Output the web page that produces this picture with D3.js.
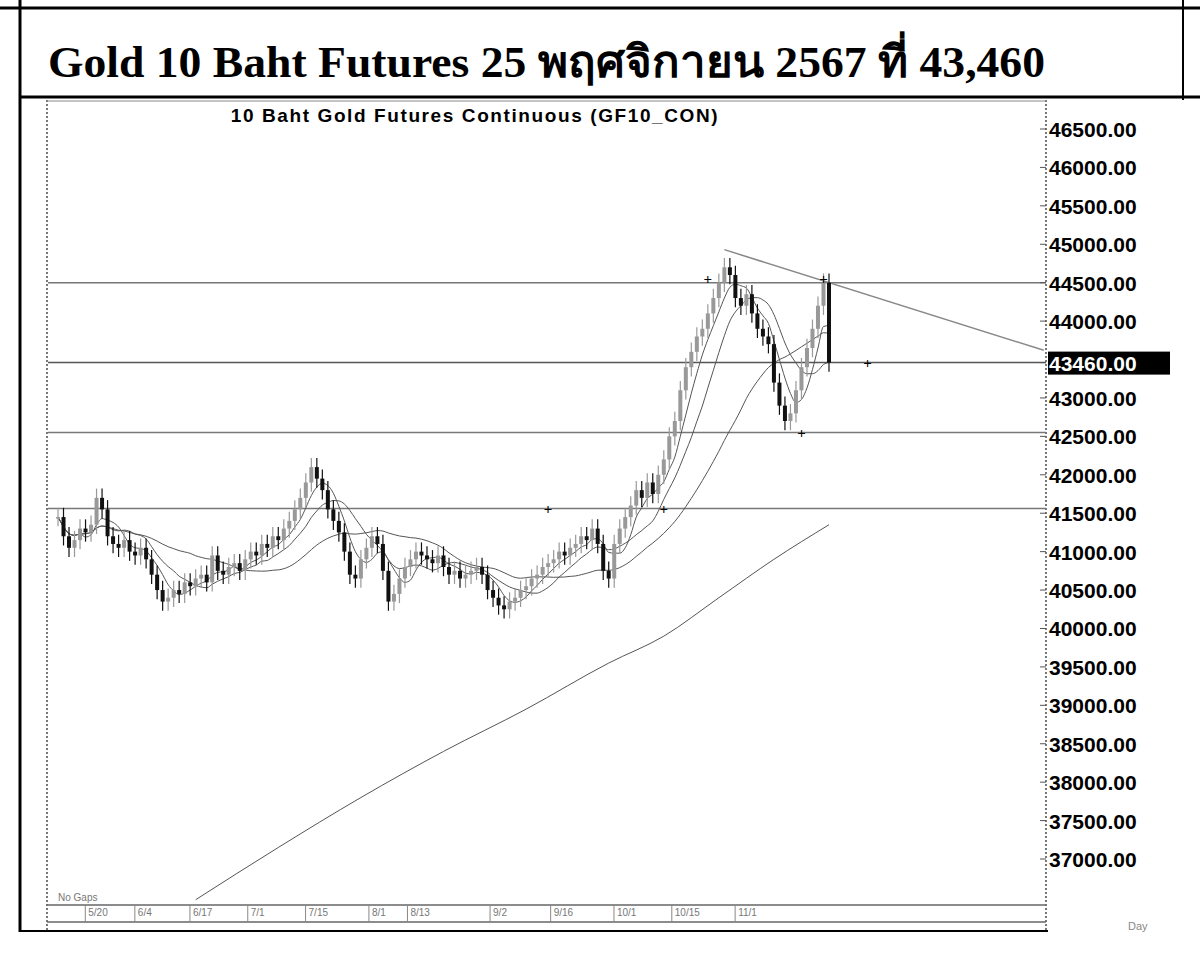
<!DOCTYPE html>
<html><head><meta charset="utf-8">
<script src="https://cdn.jsdelivr.net/npm/d3@7"></script>
<style>body{margin:0;background:#fff}</style></head>
<body><svg id="c" width="1200" height="978"></svg>
<script>
const closes=[41450,41200,41050,41150,41300,41250,41350,41700,41550,41200,
41100,41050,41150,41000,40950,41050,40900,40700,40500,40350,
40400,40500,40450,40600,40550,40650,40700,40600,40950,40750,
40700,40800,40850,40750,40900,41000,40950,41100,41050,41200,
41150,41300,41400,41550,41700,41900,42100,41950,41800,41550,
41400,41250,41000,40700,40650,40900,41050,41200,41100,40750,
40350,40450,40650,40800,40900,41000,40950,40900,40850,40950,
40800,40700,40750,40650,40700,40750,40800,40700,40500,40400,
40300,40250,40350,40400,40500,40550,40650,40700,40800,40850,
40900,41000,40950,41050,41100,41200,41150,41300,41100,40750,
40650,41100,41300,41450,41600,41800,41700,41900,41750,42000,
42200,42500,42700,43100,43400,43600,43800,43900,44100,44300,
44500,44700,44600,44300,44200,44350,44100,43900,43800,43700,
43200,42900,42700,42800,43100,43400,43650,43900,44200,44500,43460];
const longMA=[[25,36470],[40,37150],[55,37800],[70,38400],[85,38950],[100,39550],[110,39900],[120,40400],[130,40900],[140,41350]];
const levels=[44500,43460,42550,41560];
const trend=[[121,44930],[179,43620]];
const marks=[[118,44550],[139,44550],[147,43460],[135,42550],[89,41560],[110,41560]];
const yTicks=[46500,46000,45500,45000,44500,44000,43460,43000,42500,42000,41500,41000,40500,40000,39500,39000,38500,38000,37500,37000];
const dateTicks=[["5/20",5.5],["6/4",14.5],["6/17",24.5],["7/1",35],["7/15",45.5],["8/1",57],["8/13",64],["9/2",79],["9/16",90],["10/1",101.5],["10/15",112],["11/1",123.5]];
const maPeriods=[5,10,25];

const svg=d3.select("#c");
const x=d3.scaleLinear().domain([0,140]).range([58,829]);
const y=d3.scaleLinear().domain([37000,46500]).range([859,129]);
svg.append("line").attr("x1",0).attr("x2",1200).attr("y1",8).attr("y2",8).attr("stroke","#000").attr("stroke-width",3);
svg.append("line").attr("x1",20).attr("x2",1200).attr("y1",97).attr("y2",97).attr("stroke","#000").attr("stroke-width",3);
svg.append("line").attr("x1",20).attr("x2",20).attr("y1",0).attr("y2",932).attr("stroke","#000").attr("stroke-width",3);
svg.append("line").attr("x1",1183).attr("x2",1183).attr("y1",0).attr("y2",100).attr("stroke","#000").attr("stroke-width",2);
svg.append("line").attr("x1",20).attr("x2",1048).attr("y1",931).attr("y2",931).attr("stroke","#000").attr("stroke-width",2);
svg.append("text").attr("x",48).attr("y",77).attr("font-family","Liberation Serif, DejaVu Serif, serif").attr("font-weight","bold").attr("font-size",44)
 .attr("textLength",997).attr("lengthAdjust","spacingAndGlyphs").text("Gold 10 Baht Futures 25 พฤศจิกายน 2567 ที่ 43,460");
svg.append("text").attr("x",475).attr("y",122).attr("text-anchor","middle").attr("font-family","Liberation Sans, Arial").attr("font-weight","bold").attr("font-size",19).attr("letter-spacing",1.6).text("10 Baht Gold Futures Continuous (GF10_CON)");
svg.append("line").attr("x1",47).attr("x2",47).attr("y1",100).attr("y2",930).attr("stroke","#777").attr("stroke-width",2).attr("stroke-dasharray","2,2");
svg.append("line").attr("x1",1046).attr("x2",1046).attr("y1",100).attr("y2",930).attr("stroke","#777").attr("stroke-width",2).attr("stroke-dasharray","2,2");
svg.append("line").attr("x1",47).attr("x2",1046).attr("y1",101).attr("y2",101).attr("stroke","#888");
svg.append("line").attr("x1",47).attr("x2",1046).attr("y1",905).attr("y2",905).attr("stroke","#666").attr("stroke-width",1.5);
svg.append("line").attr("x1",47).attr("x2",1046).attr("y1",922).attr("y2",922).attr("stroke","#666").attr("stroke-width",1.5);
dateTicks.forEach(([t,i])=>{const xx=x(i)-3;
 svg.append("line").attr("x1",xx).attr("x2",xx).attr("y1",905).attr("y2",922).attr("stroke","#888");
 svg.append("text").attr("x",xx+3).attr("y",916).attr("font-family","Liberation Sans").attr("font-size",10).attr("fill","#777").text(t);});
svg.append("text").attr("x",58).attr("y",901).attr("font-family","Liberation Sans").attr("font-size",10).attr("fill","#777").text("No Gaps");
svg.append("text").attr("x",1128).attr("y",930).attr("font-family","Liberation Sans").attr("font-size",11).attr("fill","#888").text("Day");
levels.forEach(v=>svg.append("line").attr("x1",48).attr("x2",1046).attr("y1",y(v)).attr("y2",y(v)).attr("stroke",v===43460?"#555":"#777").attr("stroke-width",1.5));
svg.append("line").attr("x1",x(trend[0][0])).attr("x2",x(trend[1][0])).attr("y1",y(trend[0][1])).attr("y2",y(trend[1][1])).attr("stroke","#888").attr("stroke-width",1.5);
const line=d3.line().x(d=>x(d[0])).y(d=>y(d[1])).curve(d3.curveMonotoneX);
maPeriods.forEach(p=>{const pts=closes.map((c,i)=>{const s=closes.slice(Math.max(0,i-p+1),i+1);return [i,d3.mean(s)];});
 svg.append("path").attr("d",line(pts)).attr("fill","none").attr("stroke","#555").attr("stroke-width",1);});
svg.append("path").attr("d",line(longMA)).attr("fill","none").attr("stroke","#555").attr("stroke-width",1);
closes.forEach((c,i)=>{const o=i?closes[i-1]:c;const hi=Math.max(o,c)+120,lo=Math.min(o,c)-120;
 const col=c>=o?"#999":"#111";
 svg.append("line").attr("x1",x(i)).attr("x2",x(i)).attr("y1",y(hi)).attr("y2",y(lo)).attr("stroke",col).attr("stroke-width",1.2);
 svg.append("rect").attr("x",x(i)-2).attr("width",4).attr("y",y(Math.max(o,c))).attr("height",Math.max(1.5,y(Math.min(o,c))-y(Math.max(o,c)))).attr("fill",col);});
marks.forEach(([i,v])=>{svg.append("text").attr("x",x(i)).attr("y",y(v)+5).attr("text-anchor","middle").attr("font-size",15).attr("font-weight","bold").text("+");});
const g=svg.append("g");
g.append("clipPath").attr("id","cl").append("rect").attr("x",1046).attr("y",100).attr("width",124).attr("height",800);
const lab=g.append("g").attr("clip-path","url(#cl)");
yTicks.forEach(v=>{
 svg.append("line").attr("x1",1040).attr("x2",1046).attr("y1",y(v)).attr("y2",y(v)).attr("stroke","#555");
 if(v===43460) lab.append("rect").attr("x",1048).attr("y",y(v)-11).attr("width",130).attr("height",23).attr("fill","#000");
 lab.append("text").attr("x",1049).attr("y",y(v)+8).attr("font-family","Liberation Sans, Arial").attr("font-weight","bold").attr("font-size",21).attr("fill",v===43460?"#fff":"#000").text(d3.format(".2f")(v));});
</script></body></html>
